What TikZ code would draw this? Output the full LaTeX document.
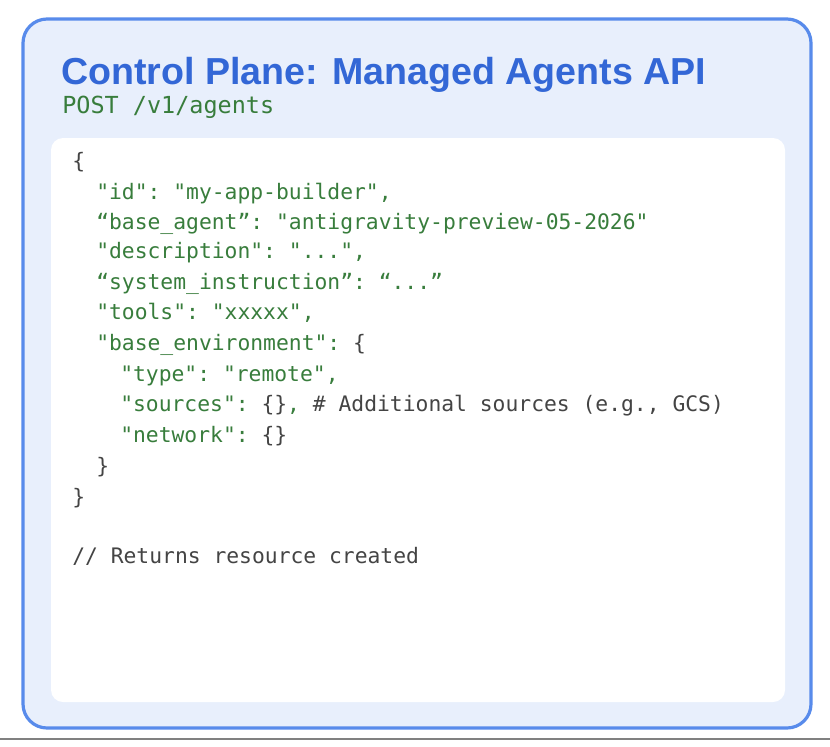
\documentclass[tikz,border=0pt]{standalone}
\usepackage{fontspec}
\setmainfont{Liberation Sans}
\setmonofont{DejaVu Sans Mono}
\definecolor{PlaneBlue}{RGB}{51, 103, 214}
\definecolor{FrameBlue}{RGB}{88, 139, 235}
\definecolor{PanelFill}{RGB}{232, 239, 252}
\definecolor{CodeGreen}{RGB}{56, 125, 60}
\definecolor{CodeGrey}{RGB}{68, 68, 68}
\usetikzlibrary{positioning}

\begin{document}
\begin{tikzpicture}[x=0.75pt, y=-0.75pt]
        \tikzstyle{code} = [anchor=base west, inner sep=0pt, font=\ttfamily\fontsize{16}{18}\selectfont, text=CodeGreen]
        \tikzstyle{brace} = [code, text=CodeGrey]

        \useasboundingbox (0,0) rectangle (830,746);

        % Panels
        \draw [line width=2.4pt, draw=FrameBlue, fill=PanelFill, rounded corners=18pt] (23,19) rectangle (811,728);
        \fill [white, rounded corners=9pt] (51,138) rectangle (785,702);
        \draw [line width=1.5pt, gray] (0,739) -- (830,739);

        % Header
        \node (title) [anchor=base west, inner sep=0pt, text=PlaneBlue, font=\bfseries\fontsize{28.2}{31}\selectfont] at (61,84) {Control Plane: Managed Agents API};
        \node (route) [anchor=base west, inner sep=0pt, text=CodeGreen, font=\ttfamily\fontsize{17.6}{20}\selectfont] at (62,113) {POST /v1/agents};

        % Code
        \node (open) [brace] at (72,168) {\{};
        \node (id) [code] at (96,199) {"id": "my-app-builder",};
        \node (agent) [code] at (96,229) {“base\_agent”: "antigravity-preview-05-2026"};
        \node (desc) [code] at (96,258) {"description": "...",};
        \node (instr) [code] at (96,289) {“system\_instruction”: “...”};
        \node (tools) [code] at (96,319) {"tools": "xxxxx",};
        \node (env) [code] at (96,350) {"base\_environment": {\color{CodeGrey}\{}};
        \node (type) [code] at (120,381) {"type": "remote",};
        \node (sources) [code] at (120,411) {"sources": {\color{CodeGrey}\{\}}, {\color{CodeGrey}\# Additional sources (e.g., GCS)}};
        \node (network) [code] at (120,442) {"network": {\color{CodeGrey}\{\}}};
        \node (envclose) [brace] at (96,473) {\}};
        \node (close) [brace] at (72,504) {\}};
        \node (note) [brace] at (72,563) {// Returns resource created};
    \end{tikzpicture}
\end{document}
